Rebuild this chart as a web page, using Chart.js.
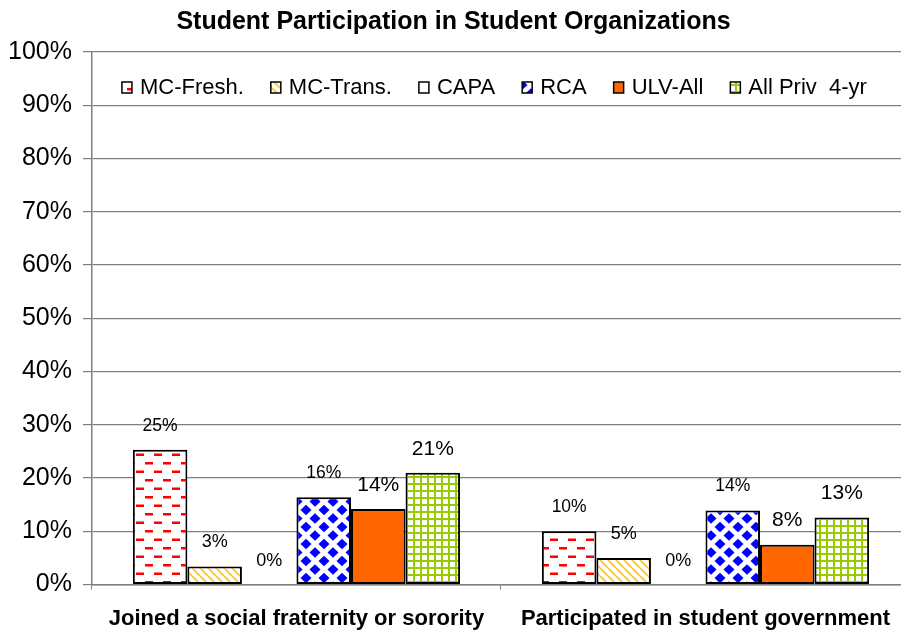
<!DOCTYPE html>
<html>
<head>
<meta charset="utf-8">
<script src="https://cdn.jsdelivr.net/npm/chart.js@4.4.1/dist/chart.umd.min.js"></script>
<style>
  html, body { margin: 0; padding: 0; background: #fff; overflow: hidden; }
  #wrap { width: 910px; height: 633px; }
</style>
</head>
<body>
<div id="wrap"><canvas id="chart"></canvas></div>
<script>
// ---------- data ----------
const categories = ['Joined a social fraternity or sorority', 'Participated in student government'];
const seriesNames = ['MC-Fresh.', 'MC-Trans.', 'CAPA', 'RCA', 'ULV-All', 'All Priv  4-yr'];
const mcFresh = [25.3, 10.0];
const mcTrans = [3.4, 5.0];
const capa = [0, 0];
const rca = [16.4, 13.9];
const ulvAll = [14.2, 7.5];
const allPriv = [21.0, 12.6];
const yMax = 100;
const yStep = 10;

const FONT = "'Liberation Sans', Arial, sans-serif";

window.addEventListener('load', () => { main(); });

function main() {
  const canvas = document.getElementById('chart');
  const ctx = canvas.getContext('2d');

  // ----- fill patterns (excel-ish) -----
  function makePattern(w, h, draw) {
    const tile = document.createElement('canvas');
    tile.width = w; tile.height = h;
    const g = tile.getContext('2d');
    g.fillStyle = '#fff';
    g.fillRect(0, 0, w, h);
    draw(g, w, h);
    return ctx.createPattern(tile, 'repeat');
  }

  const dashPattern = makePattern(18, 17, (g) => {
    g.fillStyle = '#ff0000';
    g.fillRect(1, 3, 8, 2.5);
    g.fillRect(10, 11.5, 8, 2.5);
  });

  const stripePattern = makePattern(8, 8, (g, w, h) => {
    g.strokeStyle = '#ffcc33';
    g.lineWidth = 2;
    [-w, 0, w].forEach(k => {
      g.beginPath();
      g.moveTo(k, 0);
      g.lineTo(k + w, h);
      g.stroke();
    });
  });

  const diamondPattern = makePattern(18, 17, (g, w, h) => {
    g.fillStyle = '#0000ff';
    const dx = 5.5, dy = 5.2;
    [[w / 2, h / 2], [0, 0], [w, 0], [0, h], [w, h]].forEach(([cx, cy]) => {
      g.beginPath();
      g.moveTo(cx, cy - dy);
      g.lineTo(cx + dx, cy);
      g.lineTo(cx, cy + dy);
      g.lineTo(cx - dx, cy);
      g.closePath();
      g.fill();
    });
  });

  const gridPattern = makePattern(7, 7, (g) => {
    g.fillStyle = '#99cc00';
    g.fillRect(0, 0, 7, 2);
    g.fillRect(0, 0, 2, 7);
  });

  const fills = [dashPattern, stripePattern, '#ffffff', diamondPattern, '#ff6600', gridPattern];
  const values = [mcFresh, mcTrans, capa, rca, ulvAll, allPriv];
  const labelSizes = [17.5, 18, 18, 17.5, 21, 21];

  const datasets = seriesNames.map((name, i) => ({
    label: name,
    data: values[i],
    backgroundColor: fills[i],
    borderColor: '#000',
    borderWidth: 2,
    borderSkipped: false,
    labelSize: labelSizes[i]
  }));

  // ----- value labels above bars -----
  const barLabels = {
    id: 'barLabels',
    afterDatasetsDraw(chart) {
      const c = chart.ctx;
      chart.data.datasets.forEach((ds, i) => {
        const meta = chart.getDatasetMeta(i);
        meta.data.forEach((bar, j) => {
          c.save();
          c.font = ds.labelSize + 'px ' + FONT;
          c.fillStyle = '#000';
          c.textAlign = 'center';
          c.textBaseline = 'middle';
          c.fillText(Math.round(ds.data[j]) + '%', bar.x, bar.y - 24);
          c.restore();
        });
      });
    }
  };

  // ----- legend inside plot area -----
  const innerLegend = {
    id: 'innerLegend',
    afterDraw(chart) {
      const c = chart.ctx;
      const area = chart.chartArea;
      const yMid = area.top + 35;
      let x = area.left + 30;
      c.save();
      c.font = '22px ' + FONT;
      c.textBaseline = 'middle';
      c.textAlign = 'left';
      chart.data.datasets.forEach((ds) => {
        c.fillStyle = ds.backgroundColor;
        c.fillRect(x, yMid - 5, 10, 11);
        c.strokeStyle = '#000';
        c.lineWidth = 1.5;
        c.strokeRect(x, yMid - 5, 10, 11);
        c.fillStyle = '#000';
        c.fillText(ds.label, x + 18, yMid + 1);
        x += 18 + c.measureText(ds.label).width + 27;
      });
      c.restore();
    }
  };

  new Chart(ctx, {
    type: 'bar',
    data: { labels: categories, datasets: datasets },
    options: {
      responsive: true,
      maintainAspectRatio: false,
      animation: false,
      layout: { padding: { left: -3, right: 0, top: 0, bottom: -15 } },
      datasets: { bar: { categoryPercentage: 0.8, barPercentage: 1.0 } },
      plugins: {
        legend: { display: false },
        tooltip: { enabled: false },
        title: {
          display: true,
          text: 'Student Participation in Student Organizations',
          color: '#000',
          font: { family: FONT, size: 25, weight: 'bold' },
          padding: { top: 7, bottom: 15 }
        }
      },
      scales: {
        x: {
          grid: { display: true, drawOnChartArea: false, offset: true, color: '#7f7f7f', tickLength: 5 },
          border: { color: '#7f7f7f', width: 1.5 },
          ticks: { color: '#000', padding: 16, maxRotation: 0, font: { family: FONT, size: 22, weight: 'bold' } }
        },
        y: {
          min: 0,
          max: yMax,
          grid: { color: '#7f7f7f', lineWidth: 1.2, tickLength: 9 },
          border: { color: '#7f7f7f', width: 1.5 },
          ticks: {
            stepSize: yStep,
            padding: 11,
            color: '#000',
            font: { family: FONT, size: 25 },
            callback: (v) => v + '%'
          }
        }
      }
    },
    plugins: [barLabels, innerLegend]
  });
}
</script>
</body>
</html>
